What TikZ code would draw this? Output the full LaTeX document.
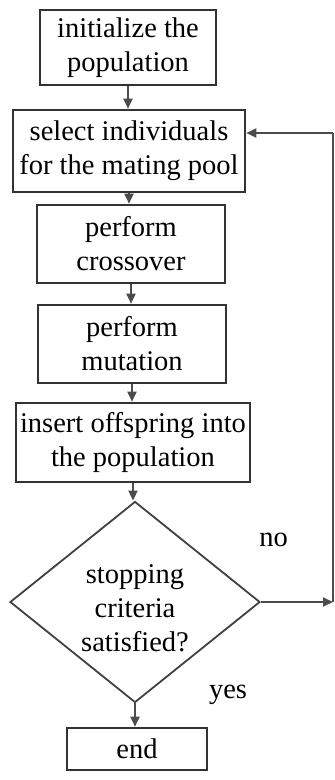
\documentclass[tikz,border=0pt]{standalone}
\usepackage{fontspec}
\setmainfont{Liberation Serif}
\usetikzlibrary{shapes.geometric,arrows.meta}
\begin{document}
\begin{tikzpicture}[x=1pt,y=-1pt,
  box/.style={draw=black!80,line width=2.6pt,align=center,inner sep=0pt,
    font=\fontsize{28.5}{34}\selectfont,fill=white},
  dia/.style={draw=black!75,line width=1.8pt,shape=diamond,align=center,inner sep=0pt,
    font=\fontsize{28.5}{34}\selectfont},
  lbl/.style={font=\fontsize{28.5}{34}\selectfont,inner sep=0pt},
  arr/.style={draw=black!70,line width=1.8pt,-{Triangle[length=10pt,width=9pt]}},
  ln/.style={draw=black!70,line width=1.8pt}]
\useasboundingbox (0,0) rectangle (335,780);
\node[box,minimum width=176pt,minimum height=75pt] (b1) at (128,47.5) {initialize the\\population};
\node[box,minimum width=232pt,minimum height=82pt] (b2) at (129,151) {select individuals\\for the mating pool};
\node[box,minimum width=188pt,minimum height=78pt] (b3) at (131,244) {perform\\crossover};
\node[box,minimum width=188pt,minimum height=78pt] (b4) at (132,344) {perform\\mutation};
\node[box,minimum width=234pt,minimum height=79pt] (b5) at (133,442.5) {insert offspring into\\the population};
\node[dia,minimum width=250pt,minimum height=201pt] (d) at (135,602) {};
\node[lbl,align=center] (dt) at (135,608) {stopping\\criteria\\satisfied?};
\node[box,minimum width=140pt,minimum height=42pt] (e) at (137,749) {end};
\node[lbl] (no) at (273.5,540) {no};
\node[lbl] (yes) at (228,695) {yes};
\coordinate (nr) at (333,602);
\coordinate (tr) at (333,133);
\draw[arr] (b1.south) -- (b1.south |- b2.north);
\draw[arr] (b2.south) -- (b2.south |- b3.north);
\draw[arr] (b3.south) -- (b3.south |- b4.north);
\draw[arr] (b4.south) -- (b4.south |- b5.north);
\draw[arr] (b5.south) -- (b5.south |- d.north);
\draw[arr] (d.south) -- (d.south |- e.north);
\draw[arr] (d.east) -- (nr);
\draw[ln] (nr) -- (tr);
\draw[arr] (tr) -- (b2.east |- tr);
\end{tikzpicture}
\end{document}
